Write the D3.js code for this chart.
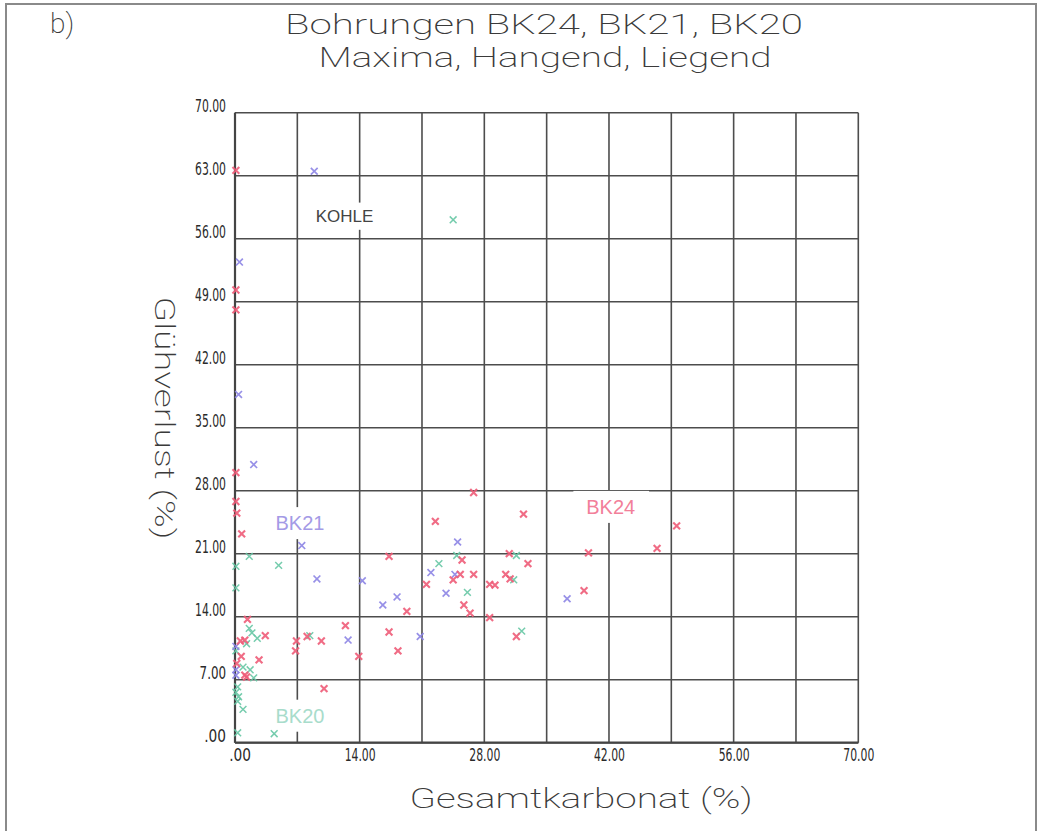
<!DOCTYPE html>
<html>
<head>
<meta charset="utf-8">
<script src="https://cdn.jsdelivr.net/npm/d3@7"></script>
<style>
  html, body { margin: 0; padding: 0; background: #fff; }
  svg { display: block; }
</style>
</head>
<body>
<svg id="chart" width="1040" height="831"></svg>
<script>
// ---- data (Gesamtkarbonat %, Glühverlust %) ----
const bk24 = [
  [0.1,63.6],[0.1,50.3],[0.1,48.1],[0.1,30.0],[0.1,26.8],[0.2,25.5],[0.75,23.2],
  [17.3,20.7],[22.5,24.6],[26.8,27.8],[32.4,25.4],[49.6,24.1],[47.4,21.6],[39.7,21.1],
  [39.2,16.9],[19.3,14.6],[25.5,20.3],[30.8,21.0],[32.9,19.9],[25.3,18.7],[26.8,18.7],
  [24.5,18.1],[21.5,17.6],[28.6,17.6],[29.2,17.5],[30.4,18.7],[30.9,18.2],[25.7,15.3],
  [26.4,14.4],[28.6,13.9],[17.3,12.3],[31.6,11.8],[12.4,13.0],[18.3,10.2],[13.9,9.6],
  [10.0,6.0],[9.7,11.3],[8.1,11.8],[6.9,11.3],[6.8,10.2],[3.4,11.9],[2.7,9.2],[1.4,13.7],
  [0.6,11.3],[1.1,11.4],[0.7,9.6],[1.1,7.5],[1.3,7.3],[0.2,8.8]
];
const bk21 = [
  [8.9,63.5],[0.5,53.4],[0.4,38.7],[2.1,30.9],[7.5,21.9],[25.0,22.3],[22.0,18.9],
  [24.7,18.7],[23.7,16.6],[37.3,16.0],[18.2,16.2],[16.6,15.3],[20.8,11.8],[9.2,18.2],
  [14.3,18.0],[12.7,11.4],[0.1,8.1],[0.1,7.5],[0.1,10.7]
];
const bk20 = [
  [24.5,58.1],[1.6,20.7],[4.9,19.7],[0.1,19.6],[0.1,17.2],[22.9,19.9],[24.9,20.8],
  [31.6,20.8],[26.1,16.7],[31.3,18.1],[32.2,12.4],[8.4,11.9],[1.6,12.7],[1.9,12.2],
  [2.5,11.6],[1.3,11.0],[0.9,8.4],[1.7,8.1],[2.1,7.2],[0.3,6.2],[0.4,5.1],[0.3,4.6],
  [0.9,3.7],[0.3,1.1],[4.4,1.0],[0.1,10.2],[0.1,5.6]
];
const gridValues = [0,7,14,21,28,35,42,49,56,63,70];
const xTickValues = [0,14,28,42,56,70];
const yTickValues = [0,7,14,21,28,35,42,49,56,63,70];
const fmt = v => (v === 0 ? ".00" : v.toFixed(2));

// series labels placed in data coordinates
const seriesLabels = [
  {text:"KOHLE", x:12.3, y:58.5, color:"#444", size:17, box:[8.2,15]},
  {text:"BK21",  x:7.3,  y:24.4, color:"#a49ae6", size:20, box:[4.5,10.9]},
  {text:"BK24",  x:42.2, y:26.2, color:"#f2809a", size:20, box:[38,46.5]},
  {text:"BK20",  x:7.3,  y:3.0,  color:"#a8dccb", size:20, box:[4.2,10.7]}
];

const svg = d3.select("#chart");
const x = d3.scaleLinear().domain([0,70]).range([235, 858.3]);
const y = d3.scaleLinear().domain([0,70]).range([742.7, 112.7]);

// outer frame
svg.append("rect").attr("x",6).attr("y",4).attr("width",1030).attr("height",840)
  .attr("fill","none").attr("stroke","#8a8a8a").attr("stroke-width",2);

// grid
const g = svg.append("g");
g.selectAll("line.v").data(gridValues).join("line")
  .attr("x1",d=>x(d)).attr("x2",d=>x(d)).attr("y1",y(0)).attr("y2",y(70))
  .attr("stroke","#4d4d4d").attr("stroke-width",1.6);
g.selectAll("line.h").data(gridValues).join("line")
  .attr("y1",d=>y(d)).attr("y2",d=>y(d)).attr("x1",x(0)).attr("x2",x(70))
  .attr("stroke","#4d4d4d").attr("stroke-width",1.6);
g.append("line").attr("x1",x(0)).attr("x2",x(70)).attr("y1",y(0)).attr("y2",y(0))
  .attr("stroke","#444").attr("stroke-width",2.2);
g.append("line").attr("x1",x(0)).attr("x2",x(0)).attr("y1",y(0)).attr("y2",y(70))
  .attr("stroke","#444").attr("stroke-width",2.2);

// tick labels
const tickFont = "'Liberation Sans Narrow','DejaVu Sans Condensed',sans-serif";
const lw = s => 4.6*s.length + 8;
svg.append("g").selectAll("text").data(yTickValues).join("text")
  .attr("x",226).attr("y",d=>y(d)-1)
  .attr("text-anchor","end")
  .attr("font-family",tickFont).attr("font-size",18).attr("fill","#2a2a2a")
  .attr("textLength",d=>lw(fmt(d))).attr("lengthAdjust","spacingAndGlyphs")
  .text(d=>fmt(d));
svg.append("g").selectAll("text").data(xTickValues).join("text")
  .attr("x",d=>x(d)+16).attr("y",761)
  .attr("text-anchor","end")
  .attr("font-family",tickFont).attr("font-size",18).attr("fill","#2a2a2a")
  .attr("textLength",d=>lw(fmt(d))).attr("lengthAdjust","spacingAndGlyphs")
  .text(d=>fmt(d));

// label boxes and texts
seriesLabels.forEach(l => {
  const h = l.size*1.6;
  svg.append("rect").attr("x",x(l.box[0])).attr("width",x(l.box[1])-x(l.box[0]))
    .attr("y",y(l.y)-h/2).attr("height",h).attr("fill","#fff");
  svg.append("text").attr("x",x(l.x)).attr("y",y(l.y))
    .attr("text-anchor","middle").attr("dominant-baseline","central")
    .attr("font-family","'Liberation Sans',Arial,sans-serif").attr("font-size",l.size)
    .attr("fill",l.color).text(l.text);
});

// markers
const series = [
  {data:bk20, color:"#66c6a4", w:1.5},
  {data:bk21, color:"#8c84e4", w:1.7},
  {data:bk24, color:"#ee5c78", w:2.1}
];
const s = 3.4;
series.forEach(se => {
  const mg = svg.append("g").attr("stroke",se.color).attr("stroke-width",se.w)
    .attr("stroke-opacity",0.9);
  mg.selectAll("path").data(se.data).join("path")
    .attr("d",d=>{const cx=x(d[0]), cy=y(d[1]);
      return `M${cx-s},${cy-s}L${cx+s},${cy+s}M${cx-s},${cy+s}L${cx+s},${cy-s}`;});
});

// titles
const titleFont = "Roboto, 'DejaVu Sans', sans-serif";
function ttext(str, cx, by, size, len) {
  return svg.append("text").attr("x",cx).attr("y",by)
    .attr("text-anchor","middle").attr("font-family",titleFont)
    .attr("font-weight",200).attr("font-size",size).attr("fill","#3a3a3a")
    .attr("textLength",len).attr("lengthAdjust","spacingAndGlyphs").text(str);
}
svg.append("text").attr("x",50).attr("y",33).attr("font-family",titleFont)
  .attr("font-weight",200).attr("font-size",28).attr("fill","#3a3a3a").text("b)");
ttext("Bohrungen BK24, BK21, BK20", 544, 34, 28, 518);
ttext("Maxima, Hangend, Liegend", 545, 67, 28, 453);
ttext("Gesamtkarbonat (%)", 581, 808, 27, 343);
svg.append("text").attr("transform","translate(155,418) rotate(90)")
  .attr("text-anchor","middle").attr("font-family",titleFont)
  .attr("font-weight",200).attr("font-size",27).attr("fill","#3a3a3a")
  .attr("textLength",243).attr("lengthAdjust","spacingAndGlyphs")
  .text("Glühverlust (%)");
</script>
</body>
</html>
